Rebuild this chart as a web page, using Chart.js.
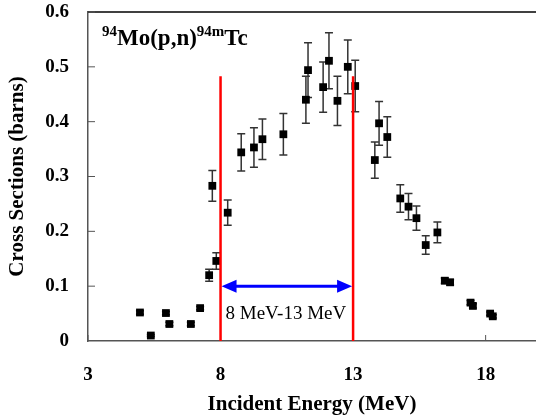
<!DOCTYPE html>
<html>
<head>
<meta charset="utf-8">
<script src="https://cdn.jsdelivr.net/npm/chart.js@4/dist/chart.umd.min.js"></script>
<style>
  html, body { margin: 0; padding: 0; background: #fff; }
  #wrap { width: 536px; height: 419px; }
</style>
</head>
<body>
<div id="wrap"><canvas id="myChart"></canvas></div>
<script>
// measured points: incident energy (MeV), cross section (barns), error (barns)
const energy = [4.96, 5.37, 5.94, 6.07, 6.88, 7.23, 7.57, 7.69, 7.84, 8.27,
    8.78, 9.26, 9.58, 10.37, 11.22, 11.30, 11.87, 12.09, 12.41, 12.80,
    13.08, 13.82, 13.98, 14.29, 14.78, 15.09, 15.39, 15.74, 16.18, 16.46,
    16.66, 17.43, 17.52, 18.17, 18.27];
const crossSection = [0.052, 0.010, 0.051, 0.031, 0.031, 0.060, 0.120, 0.283, 0.146, 0.234,
    0.344, 0.353, 0.368, 0.377, 0.440, 0.494, 0.463, 0.511, 0.438, 0.500,
    0.465, 0.330, 0.397, 0.372, 0.260, 0.245, 0.224, 0.175, 0.198, 0.110,
    0.107, 0.070, 0.064, 0.050, 0.045];
const errors = [0.003, 0.002, 0.003, 0.003, 0.003, 0.003, 0.011, 0.028, 0.015, 0.023,
    0.034, 0.036, 0.037, 0.038, 0.043, 0.050, 0.046, 0.051, 0.045, 0.049,
    0.047, 0.033, 0.040, 0.037, 0.025, 0.024, 0.022, 0.017, 0.019, 0.005,
    0.005, 0.004, 0.004, 0.003, 0.003];

const xTicks = [3, 8, 13, 18];
const yTickLabels = ['0', '0.1', '0.2', '0.3', '0.4', '0.5', '0.6'];

// energy window 8-13 MeV
const windowEdges = [8, 13];
const windowLineTop = 0.483;
const arrowLevel = 0.1;
const windowLabel = '8 MeV-13 MeV';

const serif = '"Liberation Serif", "Times New Roman", serif';

const errorBars = {
    id: 'errorBars',
    beforeDatasetsDraw(chart) {
        const ctx = chart.ctx;
        const xs = chart.scales.x, ys = chart.scales.y;
        ctx.save();
        ctx.strokeStyle = '#333';
        ctx.lineWidth = 1.5;
        energy.forEach((e, i) => {
            const px = xs.getPixelForValue(e);
            const top = ys.getPixelForValue(crossSection[i] + errors[i]);
            const bot = ys.getPixelForValue(crossSection[i] - errors[i]);
            ctx.beginPath();
            ctx.moveTo(px, top); ctx.lineTo(px, bot);
            ctx.moveTo(px - 4, top); ctx.lineTo(px + 4, top);
            ctx.moveTo(px - 4, bot); ctx.lineTo(px + 4, bot);
            ctx.stroke();
        });
        ctx.restore();
    }
};

const decorations = {
    id: 'decorations',
    afterDraw(chart) {
        const ctx = chart.ctx;
        const a = chart.chartArea;
        const xs = chart.scales.x, ys = chart.scales.y;
        ctx.save();

        // frame top line
        ctx.strokeStyle = '#000';
        ctx.lineWidth = 1.5;
        ctx.beginPath();
        ctx.moveTo(a.left, a.top); ctx.lineTo(chart.width, a.top);
        ctx.stroke();

        // inward tick marks
        ctx.strokeStyle = '#555';
        ctx.lineWidth = 1;
        ctx.beginPath();
        for (let i = 1; i < yTickLabels.length; i++) {
            const py = ys.getPixelForValue(i / 10);
            ctx.moveTo(a.left, py); ctx.lineTo(a.left + 7, py);
        }
        xTicks.forEach(v => {
            const px = xs.getPixelForValue(v);
            ctx.moveTo(px, a.bottom); ctx.lineTo(px, a.bottom - 6);
        });
        ctx.stroke();

        // red window edges
        ctx.strokeStyle = '#ff0000';
        ctx.lineWidth = 2.5;
        ctx.beginPath();
        windowEdges.forEach(v => {
            const px = xs.getPixelForValue(v);
            ctx.moveTo(px, ys.getPixelForValue(0));
            ctx.lineTo(px, ys.getPixelForValue(windowLineTop));
        });
        ctx.stroke();

        // blue double arrow
        const x1 = xs.getPixelForValue(windowEdges[0]);
        const x2 = xs.getPixelForValue(windowEdges[1]);
        const py = ys.getPixelForValue(arrowLevel);
        ctx.strokeStyle = '#0000ff';
        ctx.fillStyle = '#0000ff';
        ctx.lineWidth = 3;
        ctx.beginPath();
        ctx.moveTo(x1 + 10, py); ctx.lineTo(x2 - 10, py);
        ctx.stroke();
        ctx.beginPath();
        ctx.moveTo(x1 + 1, py); ctx.lineTo(x1 + 16, py - 6.5); ctx.lineTo(x1 + 16, py + 6.5);
        ctx.closePath();
        ctx.moveTo(x2 - 1, py); ctx.lineTo(x2 - 16, py - 6.5); ctx.lineTo(x2 - 16, py + 6.5);
        ctx.closePath();
        ctx.fill();

        // window label
        ctx.fillStyle = '#000';
        ctx.font = '19px ' + serif;
        ctx.textBaseline = 'alphabetic';
        ctx.textAlign = 'left';
        ctx.fillText(windowLabel, x1 + 5, ys.getPixelForValue(0.04));

        // reaction title 94Mo(p,n)94mTc
        let tx = a.left + 14;
        const ty = a.top + 33;
        const parts = [['94', true], ['Mo(p,n)', false], ['94m', true], ['Tc', false]];
        parts.forEach(([s, sup]) => {
            ctx.font = (sup ? 'bold 15px ' : 'bold 23px ') + serif;
            ctx.fillText(s, tx, sup ? ty - 9 : ty);
            tx += ctx.measureText(s).width;
        });

        ctx.restore();
    }
};

const ctx = document.getElementById('myChart').getContext('2d');
const myChart = new Chart(ctx, {
    type: 'scatter',
    data: {
        datasets: [{
            label: 'cross section',
            data: energy.map((e, i) => ({ x: e, y: crossSection[i] })),
            backgroundColor: '#000',
            borderColor: '#000',
            pointStyle: 'rect',
            pointRadius: 5.5,
            pointHoverRadius: 5.5,
            borderWidth: 0
        }]
    },
    options: {
        responsive: true,
        maintainAspectRatio: false,
        animation: false,
        layout: { autoPadding: false, padding: { top: 12, right: 0, left: 0, bottom: 0 } },
        plugins: {
            legend: { display: false },
            tooltip: { enabled: false }
        },
        scales: {
            x: {
                type: 'linear',
                min: 3,
                max: 19.9,
                afterBuildTicks: scale => { scale.ticks = xTicks.map(v => ({ value: v })); },
                afterFit: scale => {
                    scale.height = 78;
                    scale.paddingLeft = 0;
                    scale.paddingRight = 0;
                },
                grid: { display: false, drawTicks: false },
                border: { display: true, color: '#555', width: 1.5 },
                ticks: {
                    padding: 23,
                    color: '#000',
                    font: { family: serif, size: 19, weight: 'bold' },
                    maxRotation: 0
                },
                title: {
                    display: true,
                    text: 'Incident Energy (MeV)',
                    color: '#000',
                    font: { family: serif, size: 21, weight: 'bold' },
                    padding: { top: 0, bottom: 2 }
                }
            },
            y: {
                min: 0,
                max: 0.6,
                afterFit: scale => {
                    scale.width = 88;
                    scale.paddingTop = 0;
                    scale.paddingBottom = 0;
                },
                grid: { display: false, drawTicks: false },
                border: { display: true, color: '#555', width: 1.5 },
                ticks: {
                    stepSize: 0.1,
                    padding: 19,
                    color: '#000',
                    font: { family: serif, size: 19, weight: 'bold' },
                    callback: (v, i) => yTickLabels[i]
                },
                title: {
                    display: true,
                    text: 'Cross Sections (barns)',
                    color: '#000',
                    font: { family: serif, size: 21, weight: 'bold' },
                    padding: { top: 5, bottom: 5 }
                }
            }
        }
    },
    plugins: [errorBars, decorations]
});
</script>
</body>
</html>
